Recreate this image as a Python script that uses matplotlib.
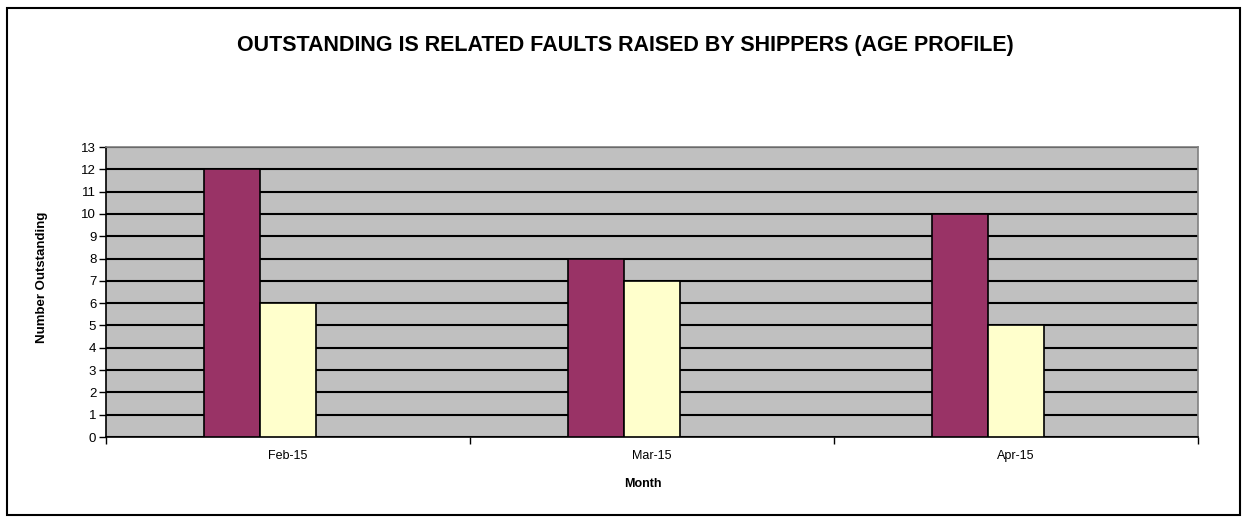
import numpy as np
import matplotlib.pyplot as plt
from matplotlib.patches import Rectangle

months = ['Feb-15', 'Mar-15', 'Apr-15']
series_a = [12, 8, 10]
series_b = [6, 7, 5]

plt.rcParams['font.family'] = ['Liberation Sans', 'DejaVu Sans']

fig = plt.figure(figsize=(12.5, 5.25), dpi=100)
ax = fig.add_axes([0.0848, 0.1676, 0.8736, 0.5524])

x = np.arange(len(months))
w = 0.154
# third (empty) slot to the right of each pair, so the pair sits left of the label
ax.bar(x - w, series_a, w, color='#993366', edgecolor='black', linewidth=1.2, zorder=3)
ax.bar(x, series_b, w, color='#FFFFCC', edgecolor='black', linewidth=1.2, zorder=3)

ax.set_xlim(-0.5, len(months) - 0.5)
ax.set_ylim(0, 13)
ax.set_facecolor('#C0C0C0')
ax.set_yticks(range(0, 14))
ax.yaxis.grid(True, color='black', linewidth=1.5, zorder=1)
ax.set_axisbelow(True)

ax.set_xticks(x)
ax.set_xticklabels(months)
ax.tick_params(axis='x', which='major', length=0, labelsize=9, pad=9)
ax.set_xticks(np.arange(-0.5, len(months)), minor=True)
ax.tick_params(axis='x', which='minor', length=5, width=1, direction='out')
ax.tick_params(axis='y', length=5, width=1, labelsize=9.5, pad=2)

for s in ['top', 'right']:
    ax.spines[s].set_color('#808080')
    ax.spines[s].set_linewidth(1.2)
for s in ['left', 'bottom']:
    ax.spines[s].set_color('black')
    ax.spines[s].set_linewidth(1.2)

ax.set_ylabel('Number Outstanding', fontsize=9.5, fontweight='bold')
ax.yaxis.set_label_coords(-0.053, 0.552)
ax.set_xlabel('Month', fontsize=9, fontweight='bold')
ax.xaxis.set_label_coords(0.492, -0.14)

fig.text(0.5, 1 - 45 / 525, 'OUTSTANDING IS RELATED FAULTS RAISED BY SHIPPERS (AGE PROFILE)',
         ha='center', va='center', fontsize=15.5, fontweight='bold')

fig.patches.append(Rectangle((7 / 1250, 10 / 525), 1233 / 1250, 507 / 525, transform=fig.transFigure,
                             fill=False, edgecolor='black', linewidth=1.5))

fig.savefig('out.png', dpi=100)
